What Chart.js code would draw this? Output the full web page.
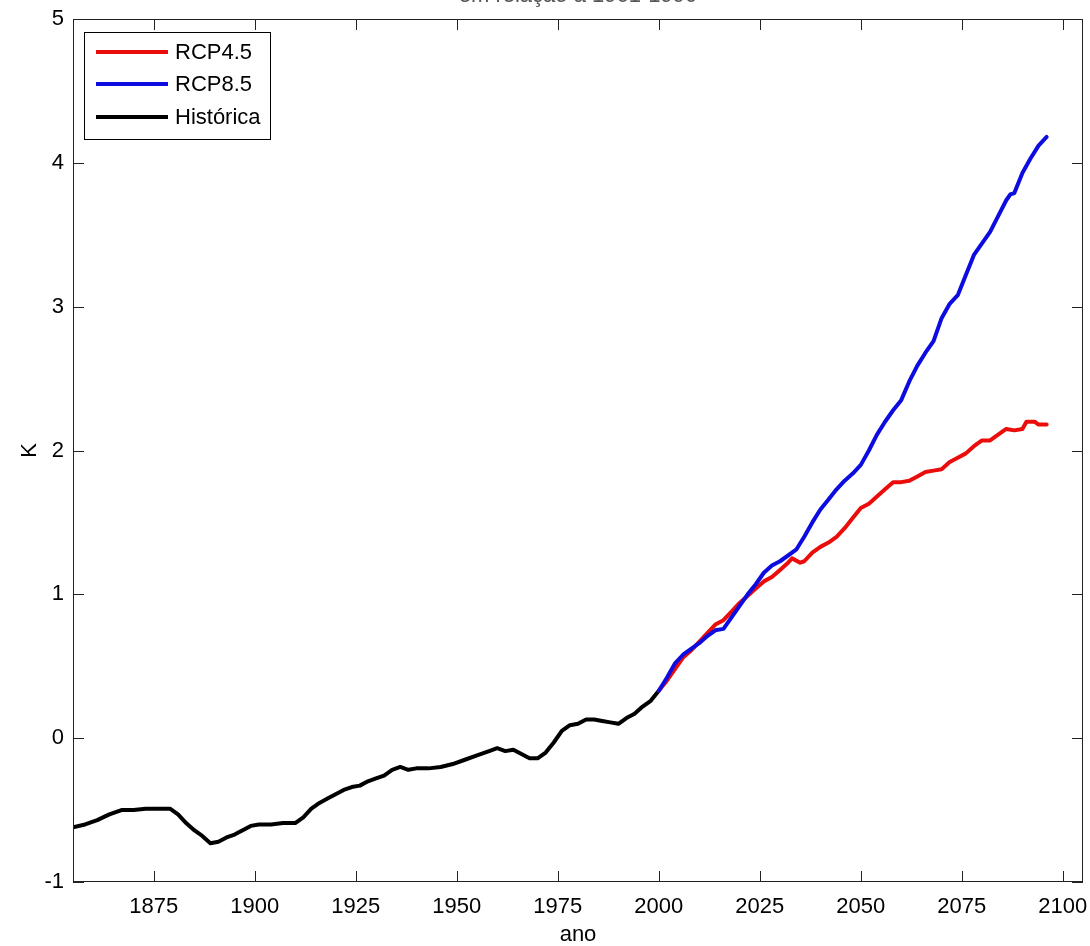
<!DOCTYPE html>
<html>
<head>
<meta charset="utf-8">
<script src="https://cdn.jsdelivr.net/npm/chart.js@4.4.1/dist/chart.umd.min.js"></script>
<style>
  html, body { margin: 0; padding: 0; background: #fff; }
  #wrap { position: relative; width: 1090px; height: 946px; }
</style>
</head>
<body>
<div id="wrap"><canvas id="c"></canvas></div>
<script>
// ---- data ----
const titleText = 'em relação a 1961-1990';
const xTitle = 'ano';
const yTitle = 'K';
const xTickValues = [1875, 1900, 1925, 1950, 1975, 2000, 2025, 2050, 2075, 2100];
const yTickValues = [-1, 0, 1, 2, 3, 4, 5];

const histYears = [1855,1858,1861,1864,1867,1870,1873,1876,1879,1881,1883,1885,1887,1889,1891,1893,1895,1897,1899,1901,1904,1907,1910,1912,1914,1916,1918,1920,1922,1924,1926,1928,1930,1932,1934,1936,1938,1940,1943,1946,1949,1952,1955,1958,1960,1962,1964,1966,1968,1970,1972,1974,1976,1978,1980,1982,1984,1986,1988,1990,1992,1994,1996,1998,2000];
const histValues = [-0.62,-0.60,-0.57,-0.53,-0.50,-0.50,-0.49,-0.49,-0.49,-0.53,-0.59,-0.64,-0.68,-0.73,-0.72,-0.69,-0.67,-0.64,-0.61,-0.60,-0.60,-0.59,-0.59,-0.55,-0.49,-0.45,-0.42,-0.39,-0.36,-0.34,-0.33,-0.30,-0.28,-0.26,-0.22,-0.20,-0.22,-0.21,-0.21,-0.20,-0.18,-0.15,-0.12,-0.09,-0.07,-0.09,-0.08,-0.11,-0.14,-0.14,-0.10,-0.03,0.05,0.09,0.10,0.13,0.13,0.12,0.11,0.10,0.14,0.17,0.22,0.26,0.33];

const rcp45Years = [2000,2002,2004,2006,2008,2010,2012,2014,2016,2018,2020,2022,2024,2026,2028,2030,2032,2033,2035,2036,2038,2040,2042,2044,2046,2048,2050,2052,2054,2056,2058,2060,2062,2064,2066,2068,2070,2072,2074,2076,2078,2080,2082,2084,2086,2088,2090,2091,2093,2094,2096];
const rcp45Values = [0.33,0.40,0.48,0.56,0.61,0.67,0.73,0.79,0.82,0.88,0.94,0.99,1.04,1.09,1.12,1.17,1.22,1.25,1.22,1.23,1.29,1.33,1.36,1.40,1.46,1.53,1.60,1.63,1.68,1.73,1.78,1.78,1.79,1.82,1.85,1.86,1.87,1.92,1.95,1.98,2.03,2.07,2.07,2.11,2.15,2.14,2.15,2.20,2.20,2.18,2.18];

const rcp85Years = [2000,2002,2004,2006,2008,2010,2012,2014,2016,2018,2020,2022,2024,2026,2028,2030,2032,2034,2036,2038,2040,2042,2044,2046,2048,2050,2052,2054,2056,2058,2060,2062,2064,2066,2068,2070,2072,2074,2076,2078,2080,2082,2084,2086,2087,2088,2090,2092,2094,2096];
const rcp85Values = [0.33,0.42,0.52,0.58,0.62,0.66,0.71,0.75,0.76,0.84,0.92,1.00,1.07,1.15,1.20,1.23,1.27,1.31,1.40,1.50,1.59,1.66,1.73,1.79,1.84,1.90,2.00,2.11,2.20,2.28,2.35,2.48,2.59,2.68,2.76,2.92,3.02,3.08,3.22,3.36,3.44,3.52,3.63,3.74,3.78,3.79,3.93,4.03,4.12,4.18];

const seriesLabels = ['RCP4.5', 'RCP8.5', 'Histórica'];
const seriesColors = ['rgb(235,12,12)', 'rgb(12,12,225)', 'rgb(0,0,0)'];

// ---- build ----
const toXY = (xs, ys) => xs.map((x, i) => ({ x: x, y: ys[i] }));
const FONT = 'Liberation Sans, Arial, sans-serif';

const frame = {
  id: 'frame',
  afterDraw(chart) {
    const ctx = chart.ctx;
    const a = chart.chartArea;
    const xs = chart.scales.x, ys = chart.scales.y;
    ctx.save();
    ctx.strokeStyle = '#222';
    ctx.lineWidth = 1;
    ctx.strokeRect(Math.round(a.left) + 0.5, Math.round(a.top) + 0.5, Math.round(a.right - a.left) - 1, Math.round(a.bottom - a.top) - 1);
    const tl = 11;
    ctx.beginPath();
    xTickValues.forEach(v => {
      const px = Math.round(xs.getPixelForValue(v)) + 0.5;
      ctx.moveTo(px, a.bottom); ctx.lineTo(px, a.bottom - tl);
      ctx.moveTo(px, a.top); ctx.lineTo(px, a.top + tl);
    });
    yTickValues.forEach(v => {
      const py = Math.round(ys.getPixelForValue(v)) + 0.5;
      ctx.moveTo(a.left, py); ctx.lineTo(a.left + tl, py);
      ctx.moveTo(a.right, py); ctx.lineTo(a.right - tl, py);
    });
    ctx.stroke();

    // legend box
    const lx = 84, ly = 32, lw = 186, lh = 107;
    ctx.fillStyle = '#fff';
    ctx.fillRect(lx, ly, lw, lh);
    ctx.strokeStyle = '#000';
    ctx.strokeRect(lx + 0.5, ly + 0.5, lw, lh);
    const rows = [52, 84, 117];
    chart.data.datasets.forEach((ds, i) => {
      ctx.strokeStyle = ds.borderColor;
      ctx.lineWidth = 4;
      ctx.beginPath();
      ctx.moveTo(96, rows[i]); ctx.lineTo(168, rows[i]);
      ctx.stroke();
      ctx.fillStyle = '#000';
      ctx.font = '22px ' + FONT;
      ctx.textBaseline = 'middle';
      ctx.textAlign = 'left';
      ctx.fillText(ds.label, 175, rows[i] + 1);
    });

    // title (mostly cut off at the top edge, as in the reference)
    ctx.fillStyle = '#555';
    ctx.font = '22px ' + FONT;
    ctx.textAlign = 'center';
    ctx.textBaseline = 'alphabetic';
    ctx.fillText(titleText, (a.left + a.right) / 2, 2);
    ctx.restore();
  }
};

new Chart(document.getElementById('c'), {
  type: 'line',
  data: {
    datasets: [
      { label: seriesLabels[0], data: toXY(rcp45Years, rcp45Values), borderColor: seriesColors[0], order: 1 },
      { label: seriesLabels[1], data: toXY(rcp85Years, rcp85Values), borderColor: seriesColors[1], order: 0 },
      { label: seriesLabels[2], data: toXY(histYears, histValues), borderColor: seriesColors[2], order: 2 }
    ]
  },
  options: {
    responsive: true,
    maintainAspectRatio: false,
    animation: false,
    layout: { padding: { left: 0, top: 19, right: 7, bottom: 0 } },
    elements: {
      point: { radius: 0, hoverRadius: 0 },
      line: { borderWidth: 4, tension: 0, borderJoinStyle: 'round', borderCapStyle: 'round' }
    },
    plugins: { legend: { display: false }, tooltip: { enabled: false }, title: { display: false } },
    scales: {
      x: {
        type: 'linear',
        min: 1855, max: 2105,
        afterBuildTicks: s => { s.ticks = xTickValues.map(v => ({ value: v })); },
        afterFit: s => { s.height = 64; s.paddingLeft = 0; s.paddingRight = 0; },
        grid: { display: false, drawTicks: false },
        border: { display: false },
        ticks: { color: '#000', font: { family: FONT, size: 22 }, padding: 12, maxRotation: 0, autoSkip: false, callback: v => String(v) },
        title: { display: true, text: xTitle, color: '#000', font: { family: FONT, size: 22, lineHeight: 1 }, padding: { top: 0, bottom: 0 } }
      },
      y: {
        type: 'linear',
        min: -1, max: 5,
        afterBuildTicks: s => { s.ticks = yTickValues.map(v => ({ value: v })); },
        afterFit: s => { s.width = 73; s.paddingTop = 0; s.paddingBottom = 0; },
        grid: { display: false, drawTicks: false },
        border: { display: false },
        ticks: { color: '#000', font: { family: FONT, size: 22 }, padding: 9, callback: v => String(v) },
        title: { display: true, text: yTitle, color: '#000', font: { family: FONT, size: 22, lineHeight: 1 }, padding: { top: 19, bottom: 0 } }
      }
    }
  },
  plugins: [frame]
});
</script>
</body>
</html>
